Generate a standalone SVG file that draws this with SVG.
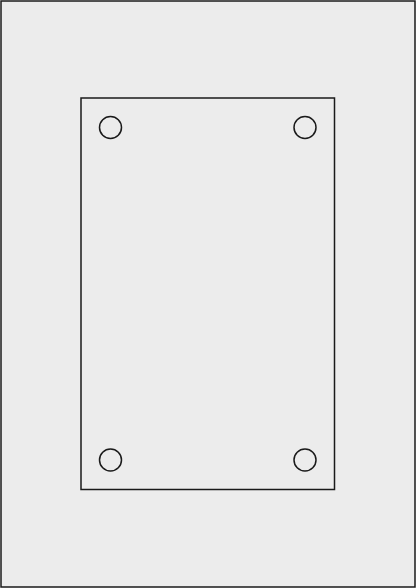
<svg xmlns="http://www.w3.org/2000/svg" width="416" height="588" viewBox="0 0 416 588">
<style>
.frame{fill:#ececec;stroke:#1a1a1a;stroke-width:1.5}
.plate{fill:#ececec;stroke:#1a1a1a;stroke-width:1.5}
.hole{fill:#ececec;stroke:#1a1a1a;stroke-width:1.5}
</style>
<g id="outer"><rect class="frame" x="1" y="1" width="414" height="586"/></g>
<g id="plate"><rect class="plate" x="81" y="98" width="253.5" height="391.5"/></g>
<g id="holes">
<circle class="hole" cx="110.5" cy="127.5" r="11"/>
<circle class="hole" cx="305" cy="127.5" r="11"/>
<circle class="hole" cx="110.5" cy="460" r="11"/>
<circle class="hole" cx="305" cy="460" r="11"/>
</g>
</svg>
